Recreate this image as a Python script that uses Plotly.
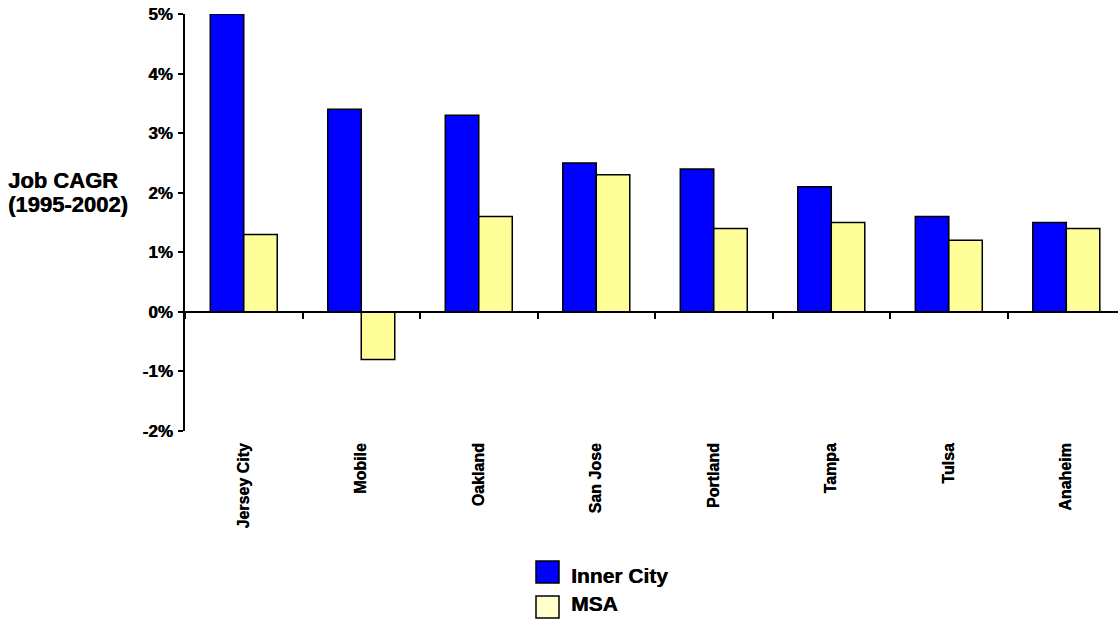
import plotly.graph_objects as go

cities = ["Jersey City", "Mobile", "Oakland", "San Jose", "Portland", "Tampa", "Tulsa", "Anaheim"]
inner_city = [5.0, 3.4, 3.3, 2.5, 2.4, 2.1, 1.6, 1.5]
msa = [1.3, -0.8, 1.6, 2.3, 1.4, 1.5, 1.2, 1.4]
y_ticks = [-2, -1, 0, 1, 2, 3, 4, 5]
y_ticktext = ["-2%", "-1%", "0%", "1%", "2%", "3%", "4%", "5%"]
series_names = ["Inner City", "MSA"]
y_title_lines = ["Job CAGR", "(1995-2002)"]
bar_colors = ["#0000FF", "#FFFF99"]
legend_colors = ["#0000FF", "#FFFFCC"]

FONT = "Arial, Liberation Sans, sans-serif"
SHADOW = "0.4px 0px 0px black"
W, H = 1118, 625
ML, MR, MT, MB = 185, 0, 14, 194
PW, PH = W - ML - MR, H - MT - MB

def f(size):
    return dict(family=FONT, size=size, color="black", weight="bold", shadow=SHADOW)

fig = go.Figure()
for name, vals, col in zip(series_names, [inner_city, msa], bar_colors):
    fig.add_trace(go.Bar(
        x=cities, y=vals, name=name, marker_color=col,
        marker_line=dict(color="black", width=1.5), showlegend=False,
    ))
# invisible helper trace for the zero-line category axis
fig.add_trace(go.Scatter(x=cities, y=inner_city, xaxis="x2", mode="markers",
                         marker=dict(opacity=0), hoverinfo="skip", showlegend=False))

xr = [-0.5, 7.44]
fig.update_layout(
    width=W, height=H,
    margin=dict(l=ML, r=MR, t=MT, b=MB),
    paper_bgcolor="white", plot_bgcolor="white",
    barmode="group", bargap=0.43, bargroupgap=0,
    font=dict(family=FONT, color="black"),
    xaxis=dict(
        range=xr, showline=False, ticks="", showgrid=False, zeroline=False,
        tickangle=-90, tickfont=f(16), ticklabelstandoff=8,
    ),
    xaxis2=dict(
        overlaying="x", anchor="free", position=2 / 7, range=xr,
        showline=True, linecolor="black", linewidth=1.5,
        ticks="outside", tickson="boundaries", ticklen=6, tickwidth=1.5, tickcolor="black",
        showticklabels=False, showgrid=False, zeroline=False,
    ),
    yaxis=dict(
        range=[-2, 5], tickvals=y_ticks, ticktext=y_ticktext,
        showline=True, linecolor="black", linewidth=1.5,
        ticks="outside", ticklen=5, tickwidth=1.5, tickcolor="black",
        showgrid=False, zeroline=False, ticklabelstandoff=2,
        tickfont=f(17),
    ),
)

def px_x(px):
    return (px - ML) / PW

def px_y(py):
    return (H - MB - py) / PH

# y-axis title (two lines)
for i, line in enumerate(y_title_lines):
    fig.add_annotation(text=f"<b>{line}</b>", xref="paper", yref="paper",
                       x=px_x(6), y=px_y(181 + i * 23), xanchor="left", yanchor="middle",
                       showarrow=False, font=f(22))

# custom legend
for i, (name, col) in enumerate(zip(series_names, legend_colors)):
    top = 561 + i * 35
    fig.add_shape(type="rect", xref="paper", yref="paper",
                  x0=px_x(536), x1=px_x(559), y0=px_y(top), y1=px_y(top + 22),
                  fillcolor=col, line=dict(color="black", width=1.5))
    fig.add_annotation(text=f"<b>{name}</b>", xref="paper", yref="paper",
                       x=px_x(569), y=px_y(575 + i * 28), xanchor="left", yanchor="middle",
                       showarrow=False, font=f(21))

fig.write_html("out.html")
